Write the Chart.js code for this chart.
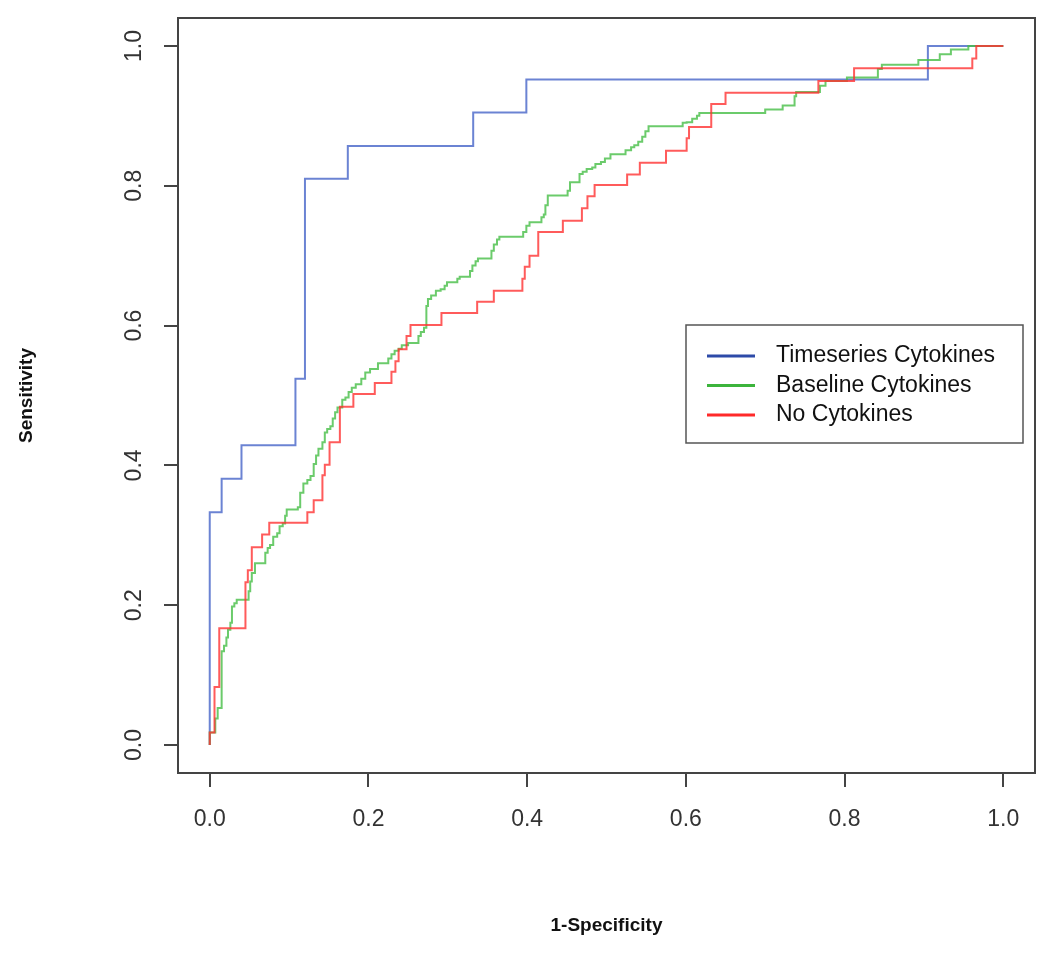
<!DOCTYPE html>
<html>
<head>
<meta charset="utf-8">
<title>ROC curves</title>
<script src="https://cdn.jsdelivr.net/npm/chart.js@4.4.1/dist/chart.umd.min.js"></script>
<style>
    html, body { margin: 0; padding: 0; background: #fff; }
    #wrap { width: 1050px; height: 955px; }
</style>
</head>
<body>
<div id="wrap"><canvas id="roc" width="1050" height="955"></canvas></div>
<script>
// Значения (1-специфичность / чувствительность)
const tickValues = [0, 0.2, 0.4, 0.6, 0.8, 1.0];
const seriesNames = ['Timeseries Cytokines', 'Baseline Cytokines', 'No Cytokines'];

const blueFpr  = [0, 0, 0.015, 0.040, 0.108, 0.120, 0.174, 0.332, 0.399, 0.905, 1.0];
const blueSens = [0, 0.333, 0.381, 0.429, 0.524, 0.810, 0.857, 0.905, 0.952, 1.0, 1.0];

const greenFpr = [0, 0, 0.007, 0.010, 0.015, 0.018, 0.021, 0.023, 0.026, 0.028, 0.031, 0.034, 0.049, 0.051, 0.053,
    0.057, 0.070, 0.073, 0.076, 0.080, 0.085, 0.088, 0.092, 0.095, 0.097, 0.111, 0.114, 0.118, 0.123, 0.127,
    0.131, 0.134, 0.137, 0.142, 0.145, 0.148, 0.152, 0.155, 0.158, 0.161, 0.167, 0.171, 0.175, 0.179, 0.184,
    0.191, 0.196, 0.202, 0.212, 0.225, 0.229, 0.233, 0.238, 0.242, 0.250, 0.263, 0.266, 0.270, 0.273, 0.275,
    0.279, 0.285, 0.291, 0.296, 0.299, 0.312, 0.315, 0.328, 0.331, 0.335, 0.338, 0.355, 0.358, 0.362, 0.365,
    0.395, 0.399, 0.403, 0.418, 0.421, 0.423, 0.426, 0.451, 0.454, 0.466, 0.470, 0.475, 0.482, 0.486, 0.493,
    0.498, 0.505, 0.524, 0.531, 0.535, 0.540, 0.545, 0.549, 0.553, 0.596, 0.601, 0.608, 0.614, 0.617, 0.700,
    0.722, 0.737, 0.739, 0.769, 0.776, 0.803, 0.842, 0.847, 0.893, 0.920, 0.934, 0.956, 1.0];
const greenSens = [0, 0.018, 0.038, 0.053, 0.134, 0.142, 0.154, 0.165, 0.175, 0.198, 0.203, 0.208, 0.220, 0.234, 0.246,
    0.260, 0.275, 0.282, 0.286, 0.298, 0.303, 0.313, 0.317, 0.328, 0.337, 0.340, 0.361, 0.374, 0.379, 0.385,
    0.402, 0.414, 0.424, 0.433, 0.447, 0.452, 0.456, 0.467, 0.476, 0.483, 0.494, 0.497, 0.505, 0.511, 0.516,
    0.524, 0.533, 0.538, 0.546, 0.553, 0.559, 0.564, 0.567, 0.572, 0.575, 0.585, 0.591, 0.597, 0.628, 0.638,
    0.643, 0.650, 0.652, 0.657, 0.662, 0.667, 0.670, 0.678, 0.686, 0.692, 0.696, 0.707, 0.716, 0.723, 0.727,
    0.734, 0.743, 0.748, 0.755, 0.759, 0.772, 0.786, 0.793, 0.805, 0.817, 0.820, 0.824, 0.826, 0.831, 0.834,
    0.839, 0.845, 0.851, 0.855, 0.858, 0.863, 0.870, 0.878, 0.885, 0.890, 0.891, 0.896, 0.900, 0.904, 0.909,
    0.915, 0.928, 0.934, 0.943, 0.950, 0.955, 0.967, 0.973, 0.980, 0.988, 0.995, 1.0, 1.0];

const redFpr = [0, 0, 0.006, 0.012, 0.045, 0.048, 0.053, 0.066, 0.075, 0.123, 0.131, 0.142, 0.145, 0.151, 0.164,
    0.181, 0.208, 0.229, 0.234, 0.238, 0.248, 0.253, 0.292, 0.337, 0.358, 0.394, 0.397, 0.403, 0.414, 0.445,
    0.469, 0.476, 0.485, 0.526, 0.542, 0.575, 0.601, 0.604, 0.632, 0.650, 0.767, 0.812, 0.961, 0.966, 1.0];
const redSens = [0, 0.018, 0.083, 0.167, 0.233, 0.250, 0.283, 0.301, 0.318, 0.333, 0.350, 0.386, 0.401, 0.433, 0.484,
    0.502, 0.518, 0.534, 0.549, 0.566, 0.585, 0.601, 0.618, 0.634, 0.650, 0.667, 0.684, 0.700, 0.734, 0.750,
    0.768, 0.785, 0.801, 0.816, 0.833, 0.850, 0.868, 0.884, 0.917, 0.933, 0.950, 0.968, 0.982, 1.0, 1.0];

const lineColors   = ['rgba(70,100,200,0.8)', 'rgba(70,190,70,0.8)', 'rgba(255,50,50,0.8)'];
const legendColors = ['#2d4aa8', '#3cb43c', '#ff2a2a'];

const FONT = '"Liberation Sans", Arial, Helvetica, sans-serif';

function toPoints(xs, ys) {
    return xs.map((x, i) => ({ x: x, y: ys[i] }));
}

// рамка вокруг области графика, как в R
const boxPlugin = {
    id: 'box',
    afterDraw(chart) {
        const { ctx, chartArea: a } = chart;
        ctx.save();
        ctx.strokeStyle = '#444';
        ctx.lineWidth = 2;
        ctx.strokeRect(a.left, a.top, a.right - a.left, a.bottom - a.top);
        ctx.restore();
    }
};

// легенда внутри области графика
const legendPlugin = {
    id: 'rocLegend',
    afterDraw(chart) {
        const ctx = chart.ctx;
        const bx = 686, by = 325, bw = 337, bh = 118;
        ctx.save();
        ctx.fillStyle = '#fff';
        ctx.fillRect(bx, by, bw, bh);
        ctx.strokeStyle = '#555';
        ctx.lineWidth = 1.5;
        ctx.strokeRect(bx, by, bw, bh);
        ctx.font = '23px ' + FONT;
        ctx.textBaseline = 'middle';
        seriesNames.forEach((name, i) => {
            const y = by + 31 + i * 29.5;
            ctx.strokeStyle = legendColors[i];
            ctx.lineWidth = 3;
            ctx.beginPath();
            ctx.moveTo(bx + 21, y);
            ctx.lineTo(bx + 69, y);
            ctx.stroke();
            ctx.fillStyle = '#111';
            ctx.fillText(name, bx + 90, y);
        });
        ctx.restore();
    }
};

const ctx = document.getElementById('roc').getContext('2d');
new Chart(ctx, {
    type: 'scatter',
    data: {
        datasets: [
            { label: seriesNames[0], data: toPoints(blueFpr, blueSens), borderColor: lineColors[0], order: 2 },
            { label: seriesNames[1], data: toPoints(greenFpr, greenSens), borderColor: lineColors[1], order: 1 },
            { label: seriesNames[2], data: toPoints(redFpr, redSens), borderColor: lineColors[2], order: 0 }
        ]
    },
    options: {
        responsive: false,
        animation: false,
        devicePixelRatio: 1,
        showLine: true,
        elements: {
            line: { borderWidth: 2, stepped: true, tension: 0, fill: false },
            point: { radius: 0, hoverRadius: 0 }
        },
        layout: { padding: { top: 18, right: 15, left: 0, bottom: 0 } },
        plugins: {
            legend: { display: false },
            tooltip: { enabled: false }
        },
        scales: {
            x: {
                type: 'linear',
                min: -0.04,
                max: 1.04,
                afterBuildTicks: (scale) => { scale.ticks = tickValues.map(v => ({ value: v })); },
                afterFit: (scale) => {
                    scale.height = 182;
                    scale.paddingLeft = 0;
                    scale.paddingRight = 0;
                },
                border: { display: false },
                grid: { drawOnChartArea: false, drawTicks: true, tickLength: 14, tickColor: '#444', lineWidth: 2 },
                ticks: {
                    autoSkip: false,
                    maxRotation: 0,
                    padding: 19,
                    color: '#333',
                    font: { family: FONT, size: 23 },
                    callback: (v) => v.toFixed(1)
                },
                title: {
                    display: true,
                    text: '1-Specificity',
                    color: '#111',
                    font: { family: FONT, size: 19, weight: 'bold' },
                    padding: { top: 0, bottom: 18 }
                }
            },
            y: {
                type: 'linear',
                min: -0.04,
                max: 1.04,
                afterBuildTicks: (scale) => { scale.ticks = tickValues.map(v => ({ value: v })); },
                afterFit: (scale) => {
                    scale.width = 178;
                    scale.paddingTop = 0;
                    scale.paddingBottom = 0;
                },
                border: { display: false },
                grid: { drawOnChartArea: false, drawTicks: true, tickLength: 14, tickColor: '#444', lineWidth: 2 },
                ticks: {
                    autoSkip: false,
                    minRotation: 90,
                    maxRotation: 90,
                    crossAlign: 'center',
                    padding: 13,
                    color: '#333',
                    font: { family: FONT, size: 23 },
                    callback: (v) => v.toFixed(1)
                },
                title: {
                    display: true,
                    text: 'Sensitivity',
                    color: '#111',
                    font: { family: FONT, size: 19, weight: 'bold' },
                    padding: { top: 15, bottom: 0 }
                }
            }
        }
    },
    plugins: [boxPlugin, legendPlugin]
});
</script>
</body>
</html>
